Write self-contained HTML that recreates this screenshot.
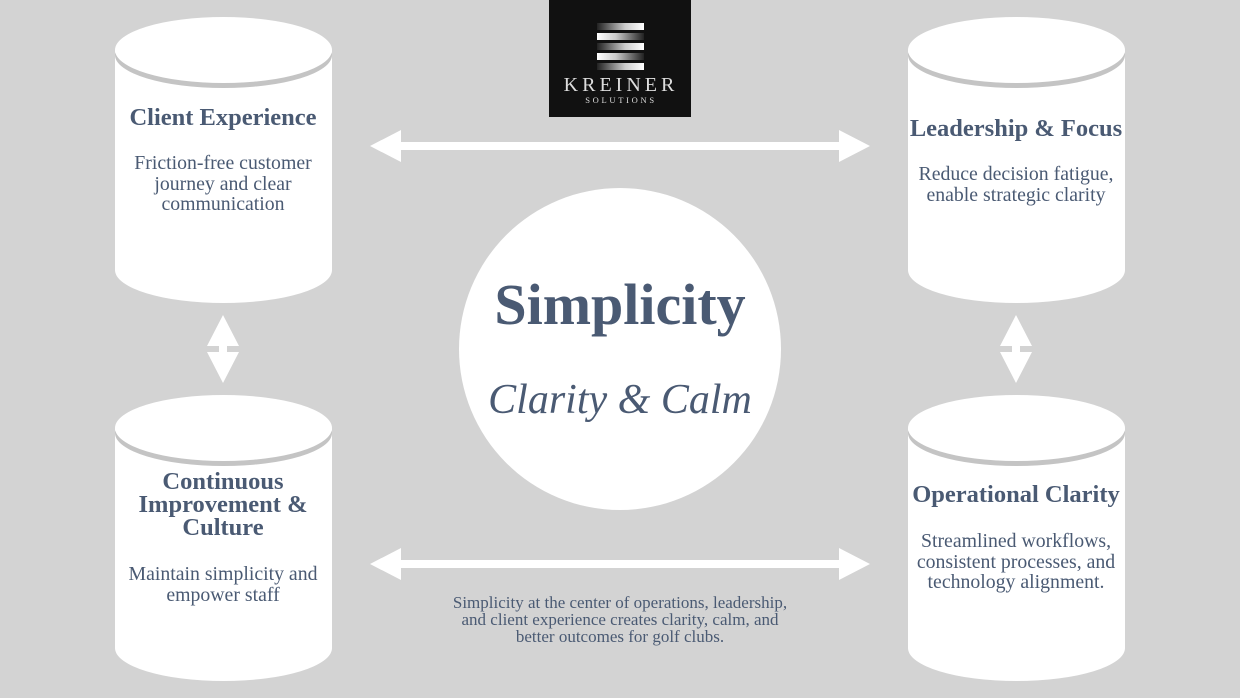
<!DOCTYPE html>
<html><head><meta charset="utf-8"><style>
body{margin:0;width:1240px;height:698px;background:#d3d3d3;overflow:hidden;font-family:"Liberation Serif",serif;}
svg{position:absolute;left:0;top:0}
</style></head><body>
<svg width="1240" height="698" viewBox="0 0 1240 698">
<defs>
<linearGradient id="bar" x1="0" x2="1"><stop offset="0" stop-color="#222"/><stop offset="0.6" stop-color="#ccc"/><stop offset="1" stop-color="#fff"/></linearGradient>
<linearGradient id="bar2" x1="1" x2="0"><stop offset="0" stop-color="#222"/><stop offset="0.6" stop-color="#ccc"/><stop offset="1" stop-color="#fff"/></linearGradient>
<g id="cyl">
<path d="M0 50 L0 270 A108.5 33 0 0 0 217 270 L217 50 Z" fill="#fff"/>
<ellipse cx="108.5" cy="55" rx="108.5" ry="33" fill="#c4c4c4"/>
<ellipse cx="108.5" cy="50" rx="108.5" ry="33" fill="#fff"/>
</g>
</defs>
<rect x="549" y="0" width="142" height="117" fill="#111"/>
<rect x="597" y="23" width="47" height="7" fill="url(#bar)"/>
<rect x="597" y="33" width="47" height="7" fill="url(#bar2)"/>
<rect x="597" y="43" width="47" height="7" fill="url(#bar)"/>
<rect x="597" y="53" width="47" height="7" fill="url(#bar2)"/>
<rect x="597" y="63" width="47" height="7" fill="url(#bar)"/>
<text x="621" y="91" text-anchor="middle" fill="#ddd" font-size="20" letter-spacing="4">KREINER</text>
<text x="621" y="103" text-anchor="middle" fill="#ddd" font-size="8.5" letter-spacing="2.7">SOLUTIONS</text>
<use href="#cyl" x="115" y="0"/>
<use href="#cyl" x="908" y="0"/>
<use href="#cyl" x="115" y="378"/>
<use href="#cyl" x="908" y="378"/>
<circle cx="620" cy="349" r="161" fill="#fff"/>
<g fill="#fff">
<polygon points="370,146 401,130 401,142 839,142 839,130 870,146 839,162 839,150 401,150 401,162"/>
<polygon points="370,564 401,548 401,560 839,560 839,548 870,564 839,580 839,568 401,568 401,580"/>
<polygon points="223,315 239,346 207,346"/><polygon points="223,383 239,352 207,352"/>
<rect x="219" y="345" width="8" height="8"/>
<polygon points="1016,315 1032,346 1000,346"/><polygon points="1016,383 1032,352 1000,352"/>
<rect x="1012" y="345" width="8" height="8"/>
</g>
<g fill="#4a5a73" text-anchor="middle">
<text x="620" y="324" font-size="58" font-weight="bold">Simplicity</text>
<text x="620" y="413" font-size="42" font-style="italic">Clarity &amp; Calm</text>
<text x="223" y="125" font-size="24.5" font-weight="bold">Client Experience</text>
<g font-size="19.8"><text x="223" y="169">Friction-free customer</text><text x="223" y="190">journey and clear</text><text x="223" y="210">communication</text></g>
<text x="1016" y="136" font-size="24.5" font-weight="bold">Leadership &amp; Focus</text>
<g font-size="19.8"><text x="1016" y="180">Reduce decision fatigue,</text><text x="1016" y="201">enable strategic clarity</text></g>
<g font-size="24.5" font-weight="bold"><text x="223" y="489">Continuous</text><text x="223" y="512">Improvement &amp;</text><text x="223" y="535">Culture</text></g>
<g font-size="19.8"><text x="223" y="580">Maintain simplicity and</text><text x="223" y="601">empower staff</text></g>
<text x="1016" y="502" font-size="24.5" font-weight="bold">Operational Clarity</text>
<g font-size="19.8"><text x="1016" y="547">Streamlined workflows,</text><text x="1016" y="568">consistent processes, and</text><text x="1016" y="588">technology alignment.</text></g>
<g font-size="17"><text x="620" y="608">Simplicity at the center of operations, leadership,</text><text x="620" y="625">and client experience creates clarity, calm, and</text><text x="620" y="642">better outcomes for golf clubs.</text></g>
</g>
</svg>
</body></html>
